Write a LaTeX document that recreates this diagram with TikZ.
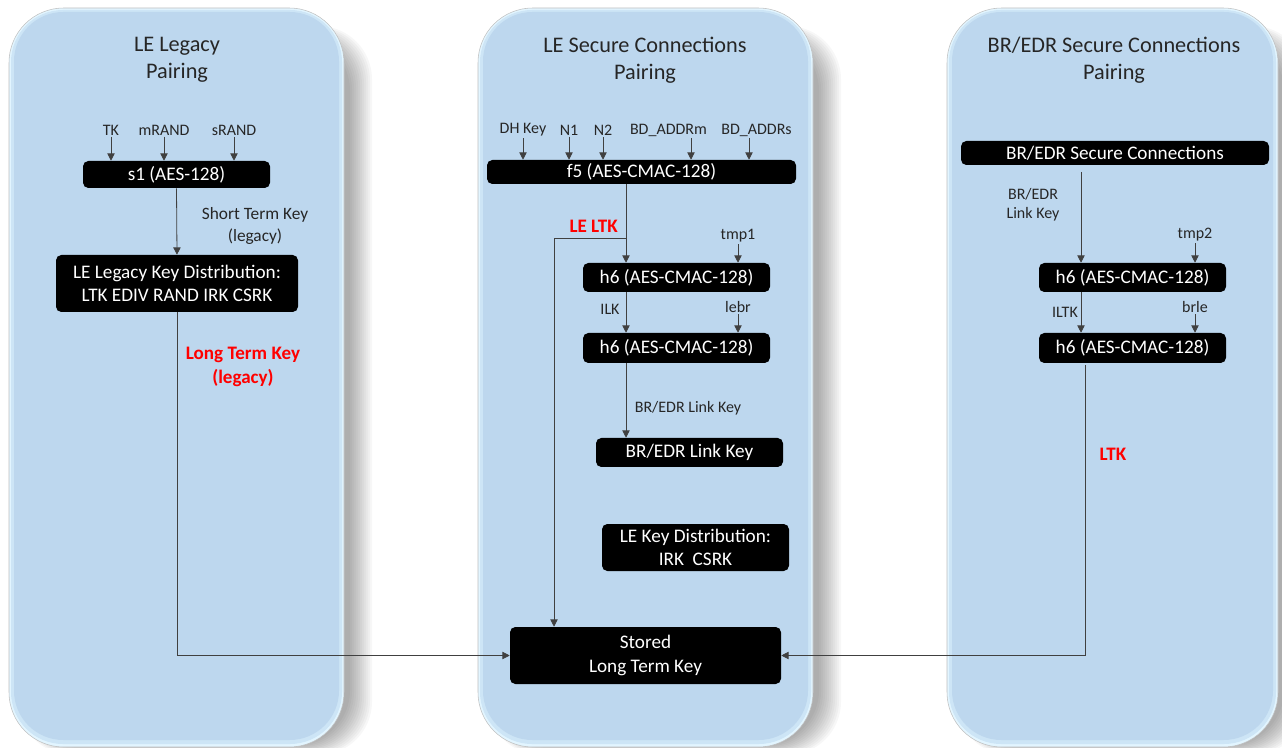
\documentclass[tikz,border=0pt]{standalone}
\usepackage{fontspec}
\setmainfont{Carlito}
\usetikzlibrary{arrows.meta,calc}
\definecolor{panelblue}{HTML}{BDD7EE}
\definecolor{panelglow}{HTML}{E2F5FF}
\definecolor{panelmid}{HTML}{CDE5F6}
\definecolor{ltkred}{HTML}{FF0000}
\definecolor{linegray}{HTML}{404040}
\newcommand\mypanel[4]{%
  \foreach \k in {0,...,11}{
    \fill[black,opacity=0.03,rounded corners=40pt] ({#1+10+\k},{#2+18+\k}) rectangle ({#3+28-2*\k},{#4+8-\k});
  }
  \filldraw[fill=panelglow,draw=black!25,line width=0.4pt,rounded corners=41pt] (#1,#2) rectangle (#3,#4);
  \fill[panelmid,rounded corners=39pt] ({#1+2},{#2+2}) rectangle ({#3-2},{#4-3});
  \fill[panelblue,rounded corners=37pt] ({#1+5},{#2+4}) rectangle ({#3-5},{#4-7});
}
\tikzset{
  blk/.style={fill=black, rounded corners=4pt, text=white, font=\fontsize{14.4}{17.5}\selectfont, inner sep=0pt, align=center},
  lbl/.style={font=\fontsize{12}{14.5}\selectfont, text=black!85, inner sep=1pt, align=center},
  ttl/.style={font=\fontsize{16.7}{20}\selectfont, text=black!85, inner sep=0pt, align=center},
  redlbl/.style={font=\fontsize{14.3}{18}\selectfont\bfseries, text=ltkred, inner sep=0pt, align=center},
  arr/.style={draw=linegray, line width=0.6pt, -{Triangle[length=5.5pt,width=5.5pt]}},
}
\begin{document}
\begin{tikzpicture}[x=0.75pt,y=-0.75pt]
\useasboundingbox (0,0) rectangle (1282,748);
\mypanel{9}{8}{344}{747}
\mypanel{478}{8}{813}{747}
\mypanel{947}{8}{1278}{747}

% titles
\node[ttl] (t1) at (177,60) {LE Legacy\\Pairing};
\node[ttl] (t2) at (645,60) {LE Secure Connections\\Pairing};
\node[ttl] (t3) at (1114,60) {BR/EDR Secure Connections\\Pairing};

% left panel
\node[blk, minimum width=187*0.75pt, minimum height=27*0.75pt] (s1) at (176.5,174.5) {s1 (AES-128)};
\node[blk, minimum width=242*0.75pt, minimum height=57*0.75pt] (lkd) at (177,283.5) {LE Legacy Key Distribution:\\LTK EDIV RAND IRK CSRK};
\node[lbl] (tk) at (111,130) {TK};
\node[lbl] (mrand) at (164,130) {mRAND};
\node[lbl] (srand) at (234,130) {sRAND};
\draw[arr] (tk.south) -- (tk.south |- s1.north);
\draw[arr] (mrand.south) -- (mrand.south |- s1.north);
\draw[arr] (srand.south) -- (srand.south |- s1.north);
\node[lbl, font=\fontsize{13}{16}\selectfont] (stk) at (255,226) {Short Term Key\\(legacy)};
\draw[arr] (s1.south) -- (lkd.north);
\node[redlbl] (ltkleg) at (243,367) {Long Term Key\\(legacy)};

% middle panel
\node[blk, minimum width=309*0.75pt, minimum height=24*0.75pt] (f5) at (641.5,172) {f5 (AES-CMAC-128)};
\node[blk, minimum width=187*0.75pt, minimum height=29*0.75pt] (h6a) at (676.5,277.5) {h6 (AES-CMAC-128)};
\node[blk, minimum width=187*0.75pt, minimum height=30*0.75pt] (h6b) at (676.5,348) {h6 (AES-CMAC-128)};
\node[blk, minimum width=187*0.75pt, minimum height=29*0.75pt] (brlk) at (689.5,452.5) {BR/EDR Link Key};
\node[blk, minimum width=187*0.75pt, minimum height=47*0.75pt] (lekd) at (695.5,547.5) {LE Key Distribution:\\IRK\ \ CSRK};
\node[blk, minimum width=271*0.75pt, minimum height=57*0.75pt] (stored) at (645.5,655.5) {Stored\\Long Term Key};
\node[lbl] (dh) at (523,130) {DH Key};
\node[lbl] (n1) at (569,130) {N1};
\node[lbl] (n2) at (603,130) {N2};
\node[lbl] (bdm) at (668.5,130) {BD\_ADDRm};
\node[lbl] (bds) at (756.5,130) {BD\_ADDRs};
\foreach \n in {dh,n1,n2}{\draw[arr] (\n.south) -- (\n.south |- f5.north);}
\draw[arr] ([xshift=22.5*0.75pt]bdm.south) -- ([xshift=22.5*0.75pt]bdm.south |- f5.north);
\draw[arr] ([xshift=-7.5*0.75pt]bds.south) -- ([xshift=-7.5*0.75pt]bds.south |- f5.north);
\node[lbl] (tmp1) at (738,236) {tmp1};
\node[lbl] (lebr) at (738,307) {lebr};
\node[lbl] (ilk) at (610,309) {ILK};
\node[lbl] (brlklbl) at (688,408) {BR/EDR Link Key};
\node[redlbl, anchor=east] (leltk) at (618,226) {LE LTK};
\coordinate (mx) at (626,0);
\coordinate (br) at (626,238);
\coordinate (lx) at (554,0);
\draw[arr] (f5.south -| mx) -- (h6a.north -| mx);
\draw[arr] (br) -| (stored.north -| lx);
\draw[arr] (h6a.south -| mx) -- (h6b.north -| mx);
\draw[arr] (h6b.south -| mx) -- (brlk.north -| mx);
\draw[arr] (tmp1.south) -- (tmp1.south |- h6a.north);
\draw[arr] (lebr.south) -- (lebr.south |- h6b.north);
\draw[arr] (lkd.south) |- (stored.west);

% right panel
\node[blk, minimum width=308*0.75pt, minimum height=24*0.75pt] (brsc) at (1115,153) {BR/EDR Secure Connections};
\node[blk, minimum width=187*0.75pt, minimum height=29*0.75pt] (h6c) at (1132.5,277.5) {h6 (AES-CMAC-128)};
\node[blk, minimum width=187*0.75pt, minimum height=30*0.75pt] (h6d) at (1132.5,348) {h6 (AES-CMAC-128)};
\node[lbl] (brlk2) at (1033,205) {BR/EDR\\Link Key};
\node[lbl] (tmp2) at (1195,235) {tmp2};
\node[lbl] (brle) at (1195,307) {brle};
\node[lbl] (iltk) at (1065,312) {ILTK};
\node[redlbl] (ltk) at (1113,454) {LTK};
\coordinate (bs) at (1081,172);
\coordinate (re) at (1085,365);
\draw[arr] (bs) -- (h6c.north -| bs);
\draw[arr] (h6c.south -| bs) -- (h6d.north -| bs);
\draw[arr] (tmp2.south) -- (tmp2.south |- h6c.north);
\draw[arr] (brle.south) -- (brle.south |- h6d.north);
\draw[arr] (re) |- (stored.east);
\end{tikzpicture}
\end{document}
